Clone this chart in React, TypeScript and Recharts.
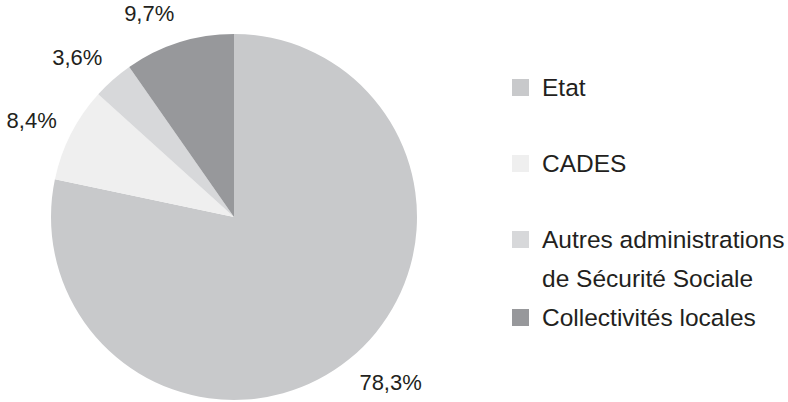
import { PieChart, Pie, Cell, Legend } from "recharts";

const categories = ["Etat", "CADES", "Autres administrations de Sécurité Sociale", "Collectivités locales"];
const shares = [78.3, 8.4, 3.6, 9.7];
const colors = ["#c8c9cb", "#efefef", "#d7d8da", "#97989b"];

const data = categories.map((name, i) => ({ name, value: shares[i], color: colors[i] }));

const FONT = "'Liberation Sans Narrow', 'Liberation Sans', Arial, sans-serif";
const RAD = Math.PI / 180;

const renderLabel = (props: any) => {
  const { cx, cy, midAngle, outerRadius, value } = props;
  const x = cx + (outerRadius + 16) * Math.cos(-midAngle * RAD);
  const y = cy + (outerRadius + 30) * Math.sin(-midAngle * RAD);
  return (
    <text
      x={x}
      y={y}
      fill="#231f20"
      fontSize={22}
      fontFamily={FONT}
      textAnchor={x < cx ? "end" : "start"}
      dominantBaseline="central"
    >
      {value.toFixed(1).replace(".", ",")}%
    </text>
  );
};

const LegendContent = () => (
  <div style={{ fontFamily: FONT, fontSize: 24.5, color: "#231f20", lineHeight: "39px" }}>
    {data.map((d) => (
      <div key={d.name} style={{ display: "flex", alignItems: "flex-start", minHeight: 76 }}>
        <span style={{ width: 17, height: 17, background: d.color, marginTop: 11, marginRight: 13, flexShrink: 0 }} />
        <span style={{ width: 246 }}>{d.name}</span>
      </div>
    ))}
  </div>
);

export default function App() {
  return (
    <div>
      <style>{`body{margin:0}`}</style>
      <PieChart width={788} height={402} margin={{ top: 0, right: 0, bottom: 0, left: 0 }}>
        <Pie
          data={data}
          dataKey="value"
          nameKey="name"
          cx={234}
          cy={217}
          outerRadius={183}
          startAngle={90}
          endAngle={-270}
          stroke="none"
          label={renderLabel}
          labelLine={false}
          isAnimationActive={false}
        >
          {data.map((d) => (
            <Cell key={d.name} fill={d.color} />
          ))}
        </Pie>
        <Legend
          layout="vertical"
          verticalAlign="top"
          align="right"
          content={<LegendContent />}
          wrapperStyle={{ left: 512, top: 68, width: 276 }}
        />
      </PieChart>
    </div>
  );
}
